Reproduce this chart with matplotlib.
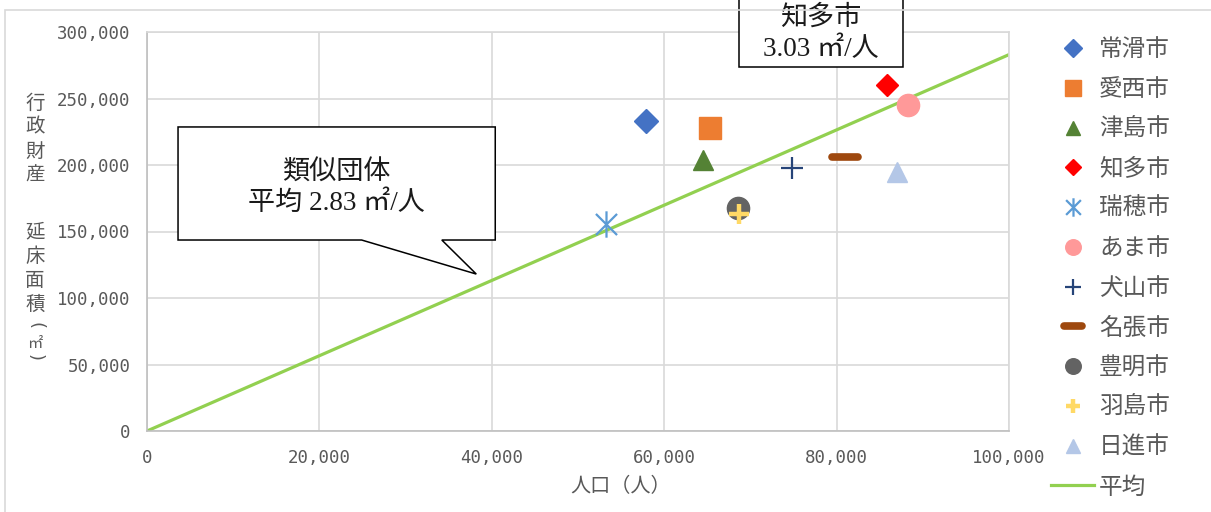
import numpy as np
import matplotlib.pyplot as plt
from matplotlib.path import Path
from matplotlib.markers import MarkerStyle
from matplotlib.patches import Polygon, Rectangle

plt.rcParams['font.family'] = ['Noto Sans CJK JP', 'DejaVu Sans']

# 人口と行政財産延床面積
cities = ['常滑市', '愛西市', '津島市', '知多市', '瑞穂市', 'あま市',
          '犬山市', '名張市', '豊明市', '羽島市', '日進市']
population = [57900, 65300, 64500, 85800, 53200, 88300,
              74800, 81000, 68600, 68700, 87000]
floor_area = [233000, 227500, 204000, 260000, 155500, 245000,
              197700, 206000, 167700, 163000, 194500]

avg_rate = 2.83            # 類似団体平均 ㎡/人
avg_x = np.array([0, 100000])

x_ticks = [0, 20000, 40000, 60000, 80000, 100000]
y_ticks = [0, 50000, 100000, 150000, 200000, 250000, 300000]

# 米印マーカー（縦線 + ×）
star = Path([(0, -1), (0, 1), (-0.8, -0.8), (0.8, 0.8), (-0.8, 0.8), (0.8, -0.8)],
            [Path.MOVETO, Path.LINETO] * 3)
dash = MarkerStyle('_', capstyle='round')

styles = [
    dict(marker='D', ms=12.5, color='#4472C4'),
    dict(marker='s', ms=16, color='#ED7D31'),
    dict(marker='^', ms=15, color='#548235'),
    dict(marker='D', ms=11.5, color='#FF0000'),
    dict(marker=star, ms=19, color='#5B9BD5', mew=1.6),
    dict(marker='o', ms=16, color='#FF9999'),
    dict(marker='+', ms=16, color='#264478', mew=1.6),
    dict(marker=dash, ms=19, color='#9E480E', mew=5.5),
    dict(marker='o', ms=16, color='#636363'),
    dict(marker='+', ms=14, color='#FFD966', mew=3.2),
    dict(marker='^', ms=15, color='#B4C7E7'),
]

W, H = 1211, 512
fig = plt.figure(figsize=(W / 100, H / 100), dpi=100)
ax = fig.add_axes([147 / W, (H - 431) / H, (1009 - 147) / W, (431 - 32) / H])

# 外枠
fig.patches.append(Rectangle((5 / W, -0.1), 1.1, (H - 10) / H + 0.1,
                             transform=fig.transFigure, fill=False,
                             edgecolor='#D9D9D9', lw=1.2, zorder=0))

ax.plot(avg_x, avg_rate * avg_x, color='#92D050', lw=2.3, label='平均', zorder=2)

handles = []
for name, px, fa, st in zip(cities, population, floor_area, styles):
    st = dict(st)
    c = st.pop('color')
    h, = ax.plot([px], [fa], linestyle='none', mfc=c, mec=c, label=name,
                 zorder=3, **st)
    handles.append(h)
handles.append(ax.lines[0])

ax.set_xlim(0, 100000)
ax.set_ylim(0, 300000)
ax.set_xticks(x_ticks)
ax.set_yticks(y_ticks)
ax.set_xticklabels([f'{v:,}' for v in x_ticks], family='DejaVu Sans Mono')
ax.set_yticklabels([f'{v:,}' for v in y_ticks], family='DejaVu Sans Mono')
ax.tick_params(length=0, labelsize=12.5, labelcolor='#595959')
ax.tick_params(axis='y', pad=12)
ax.tick_params(axis='x', pad=13)
ax.grid(True, color='#D9D9D9', lw=1.2)
ax.set_axisbelow(True)
for s in ax.spines.values():
    s.set_color('#D9D9D9')
    s.set_linewidth(1.2)
ax.spines['left'].set_color('#BFBFBF')
ax.spines['bottom'].set_color('#BFBFBF')

fig.text(621 / W, 1 - 487 / H, '人口（人）', ha='center', va='center',
         fontsize=14.5, color='#595959')

# 縦書きの軸ラベル（1文字ずつ配置）
ylab_chars = ['行', '政', '財', '産', '延', '床', '面', '積']
ylab_pos = [103, 127, 151, 175, 232, 256, 280, 304]
for ch, yp in zip(ylab_chars, ylab_pos):
    fig.text(35 / W, 1 - yp / H, ch, ha='center', va='center',
             fontsize=14, color='#595959')
# 括弧は横向きの丸括弧を回転させて縦書きにする
fig.text(35 / W, 1 - 325 / H, '(', ha='center', va='center', rotation=-90,
         fontsize=13, color='#595959', family='DejaVu Sans')
fig.text(35 / W, 1 - 344 / H, '㎡', ha='center', va='center',
         fontsize=11, color='#595959')
fig.text(35 / W, 1 - 358 / H, ')', ha='center', va='center', rotation=-90,
         fontsize=13, color='#595959', family='DejaVu Sans')

leg = fig.legend(handles=handles, loc='upper left',
                 bbox_to_anchor=(1030 / W, 1 - 17 / H), frameon=False,
                 fontsize=17, labelcolor='#595959', markerscale=0.7,
                 handlelength=1.82, handletextpad=0.2, labelspacing=0.71)

# 吹き出し
serif = ['Liberation Serif', 'Noto Sans CJK JP']
bubble = [(3600, 228600), (40400, 228600), (40400, 143600), (34200, 143600),
          (38200, 118000), (24900, 143600), (3600, 143600)]
ax.add_patch(Polygon(bubble, closed=True, facecolor='white', edgecolor='black',
                     lw=1.1, zorder=5, clip_on=False))
ax.text(22000, 182500, '類似団体\n平均 2.83 ㎡/人', ha='center', va='center',
        fontsize=19.5, family=serif, linespacing=1.2, zorder=6, color='#1A1A1A')

ax.add_patch(Rectangle((68700, 273700), 87700 - 68700, 60000, facecolor='white',
                       edgecolor='black', lw=1.1, zorder=5, clip_on=False))
ax.text(78200, 298500, '知多市\n3.03 ㎡/人', ha='center', va='center',
        fontsize=19.5, family=serif, linespacing=1.3, zorder=6, color='#1A1A1A')

fig.savefig('out.png', dpi=100)
